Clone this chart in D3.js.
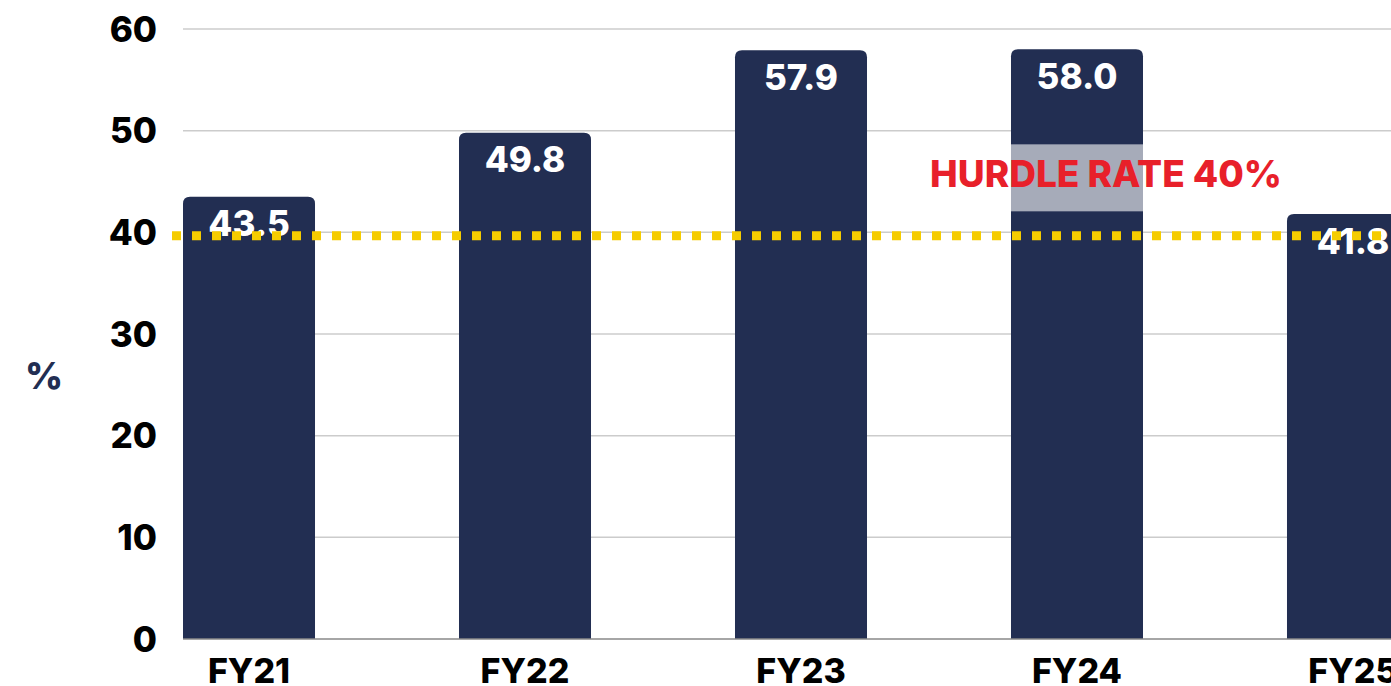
<!DOCTYPE html>
<html>
<head>
<meta charset="utf-8">
<script src="https://cdn.jsdelivr.net/npm/d3@7"></script>
<style>
  html, body { margin: 0; padding: 0; background: #fff; overflow: hidden; }
  text { font-family: Inter, "Noto Sans", sans-serif; font-weight: 800; }
</style>
</head>
<body>
<script>
'use strict';

// Chart data
const years = ["FY21", "FY22", "FY23", "FY24", "FY25"];
const returns = [43.5, 49.8, 57.9, 58.0, 41.8];
const yTicks = [0, 10, 20, 30, 40, 50, 60];
const hurdle = 40;
const hurdleLabel = "HURDLE RATE 40%";

const width = 1391, height = 686;
const navy = "#222e52";

let svg = d3.select("body").append("svg")
  .attr("width", width)
  .attr("height", height);

let x = d3.scaleBand()
  .domain(years)
  .range([183, 1419])
  .paddingInner(0.5217)
  .paddingOuter(0);

let y = d3.scaleLinear()
  .domain([0, 60])
  .range([639, 29]);

// Gridlines
svg.append("g")
  .selectAll("line")
  .data(yTicks.filter(d => d > 0))
  .enter()
  .append("line")
  .attr("x1", 183).attr("x2", width)
  .attr("y1", d => y(d)).attr("y2", d => y(d))
  .attr("stroke", "#cccccc")
  .attr("stroke-width", 1.5);

// Y tick labels
svg.append("g")
  .selectAll("text")
  .data(yTicks)
  .enter()
  .append("text")
  .attr("x", 157)
  .attr("y", d => y(d))
  .attr("dy", "0.36em")
  .attr("text-anchor", "end")
  .attr("font-size", 35)
  .attr("fill", "#000")
  .text(d => d);

// Axis title
svg.append("text")
  .attr("x", 44).attr("y", 376)
  .attr("dy", "0.36em")
  .attr("text-anchor", "middle")
  .attr("font-size", 37)
  .attr("fill", navy)
  .text("%");

// Bars with rounded top corners
function barPath(d, i)
{
  let x0 = x(years[i]), w = x.bandwidth();
  let top = y(d), bottom = y(0), r = 7;
  return "M" + x0 + "," + bottom +
    "V" + (top + r) +
    "Q" + x0 + "," + top + " " + (x0 + r) + "," + top +
    "H" + (x0 + w - r) +
    "Q" + (x0 + w) + "," + top + " " + (x0 + w) + "," + (top + r) +
    "V" + bottom + "Z";
}

svg.append("g")
  .selectAll("path")
  .data(returns)
  .enter()
  .append("path")
  .attr("d", barPath)
  .attr("fill", navy);

// Baseline
svg.append("line")
  .attr("x1", 183).attr("x2", width)
  .attr("y1", y(0)).attr("y2", y(0))
  .attr("stroke", "#888888")
  .attr("stroke-width", 1.5);

// X labels
svg.append("g")
  .selectAll("text")
  .data(years)
  .enter()
  .append("text")
  .attr("x", d => x(d) + x.bandwidth() / 2)
  .attr("y", 671)
  .attr("dy", "0.36em")
  .attr("text-anchor", "middle")
  .attr("font-size", 34)
  .attr("fill", "#000")
  .text(d => d);

// Value labels
svg.append("g")
  .selectAll("text")
  .data(returns)
  .enter()
  .append("text")
  .attr("x", (d, i) => x(years[i]) + x.bandwidth() / 2)
  .attr("y", d => y(d) + 27)
  .attr("dy", "0.36em")
  .attr("text-anchor", "middle")
  .attr("font-size", 35)
  .attr("fill", "#fff")
  .text(d => d.toFixed(1));

// Hurdle line
svg.append("line")
  .attr("x1", 172).attr("x2", width)
  .attr("y1", y(hurdle) + 3.5).attr("y2", y(hurdle) + 3.5)
  .attr("stroke", "#f5cc00")
  .attr("stroke-width", 9)
  .attr("stroke-dasharray", "9,11");

// Hurdle label with translucent backing
svg.append("rect")
  .attr("x", 925).attr("y", y(hurdle) - 88)
  .attr("width", 362).attr("height", 67)
  .attr("fill", "#fff")
  .attr("fill-opacity", 0.6);

svg.append("text")
  .attr("x", 1106).attr("y", y(hurdle) - 59)
  .attr("dy", "0.36em")
  .attr("text-anchor", "middle")
  .attr("font-size", 37)
  .attr("fill", "#e8202a")
  .text(hurdleLabel);
</script>
</body>
</html>
